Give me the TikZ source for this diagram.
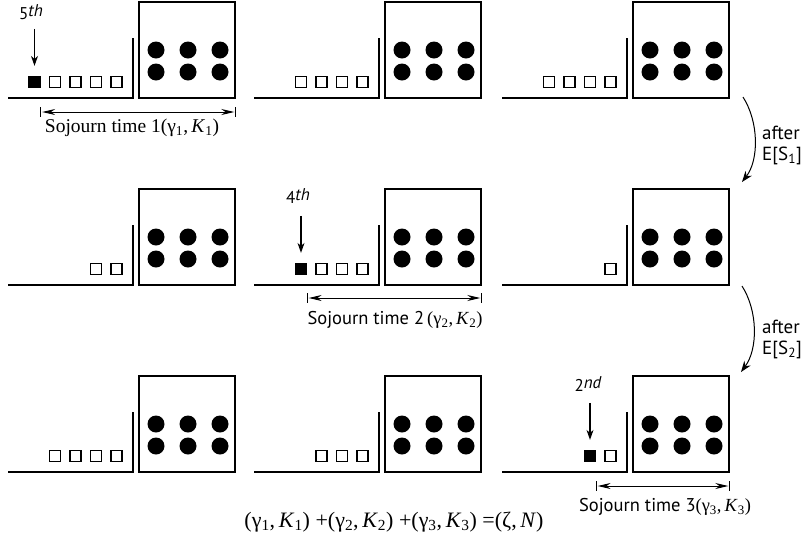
\documentclass[tikz,border=0pt]{standalone}
\usepackage{fontspec}
\setmainfont{Liberation Serif}
\newfontfamily\sansf{PT Sans}
\usetikzlibrary{arrows.meta,calc}
\newcommand\gk[2]{(γ\textsubscript{#1},\,\textit{K}\textsubscript{#2})}
\begin{document}
\begin{tikzpicture}[x=1pt,y=-1pt,
 base/.style={line width=1.3pt},
 srv/.style={draw,line width=1.6pt,minimum width=96pt,minimum height=96pt,inner sep=0pt},
 job/.style={circle,fill=black,minimum size=17pt,inner sep=0pt},
 sq/.style={draw,line width=1.3pt,minimum size=11pt,inner sep=0pt},
 sqf/.style={sq,fill=black},
 pointer/.style={-{Stealth[length=10pt,width=7pt]},line width=1.1pt},
 dimline/.style={{Stealth[length=13pt,width=6pt]}-{Stealth[length=13pt,width=6pt]},line width=1pt,shorten <=1.5pt,shorten >=1.5pt},
 tickmark/.style={line width=1.1pt},
 curv/.style={-{Stealth[length=11pt,width=8pt]},line width=1pt},
 ordlab/.style={font=\sansf\fontsize{17}{19}\selectfont,inner sep=0pt},
 serlab/.style={font=\fontsize{19.5}{22}\selectfont,inner sep=0pt},
 eqlab/.style={font=\fontsize{22}{24}\selectfont,inner sep=0pt},
 sanlab/.style={font=\sansf\fontsize{18.5}{21}\selectfont,inner sep=0pt},
 afterlab/.style={font=\sansf\fontsize{19}{21}\selectfont,align=left,anchor=west,inner sep=0pt},
 station/.pic={
   \draw[base] (-125,0) -- (0,0) -- (0,-60);
   \node[srv] (box) at (54,-48) {};
   \foreach \i/\xx in {1/23,2/55,3/87}{
     \node[job] (u\i) at (\xx,-48) {};
     \node[job] (l\i) at (\xx,-26) {};
   }
 }
]
\useasboundingbox (0,0) rectangle (801,539);

% stations
\pic (p11) at (133,98) {station};
\pic (p12) at (379,98) {station};
\pic (p13) at (627,98) {station};
\pic (p21) at (133,285) {station};
\pic (p22) at (379,285) {station};
\pic (p23) at (627,285) {station};
\pic (p31) at (133,472) {station};
\pic (p32) at (379,472) {station};
\pic (p33) at (627,472) {station};

% row 1 customers
\node[sqf] (s11f) at (34.5,82) {};
\foreach \xx [count=\k] in {55,75.5,96,116.5} \node[sq] (s11\k) at (\xx,82) {};
\foreach \xx [count=\k] in {301,321.5,342,362.5} \node[sq] (s12\k) at (\xx,82) {};
\foreach \xx [count=\k] in {549,569.5,590,610.5} \node[sq] (s13\k) at (\xx,82) {};
% row 2 customers
\foreach \xx [count=\k] in {96,116.5} \node[sq] (s21\k) at (\xx,269) {};
\node[sqf] (s22f) at (301,269) {};
\foreach \xx [count=\k] in {321.5,342,362.5} \node[sq] (s22\k) at (\xx,269) {};
\node[sq] (s231) at (610.5,269) {};
% row 3 customers
\foreach \xx [count=\k] in {55,75.5,96,116.5} \node[sq] (s31\k) at (\xx,456) {};
\foreach \xx [count=\k] in {321.5,342,362.5} \node[sq] (s32\k) at (\xx,456) {};
\node[sqf] (s33f) at (590,456) {};
\node[sq] (s331) at (610.5,456) {};

% ordinal labels and pointers
\node[ordlab] (o5) at (31,12) {5\raisebox{0.35ex}{\itshape th}};
\draw[pointer] ($(s11f.north)+(0,-47)$) -- ($(s11f.north)+(0,-10)$);
\node[ordlab] (o4) at (298,196) {4\raisebox{0.35ex}{\itshape th}};
\draw[pointer] ($(s22f.north)+(0,-47)$) -- ($(s22f.north)+(0,-10)$);
\node[ordlab] (o2) at (588,384) {2\raisebox{0.35ex}{\itshape nd}};
\draw[pointer] ($(s33f.north)+(0,-47)$) -- ($(s33f.north)+(0,-10)$);

% sojourn dimension lines
\coordinate (d1a) at (s11f.east |- 0,112);
\coordinate (d1b) at (p11box.east |- 0,112);
\draw[tickmark] ($(d1a)+(0,-5)$) -- ($(d1a)+(0,5)$);
\draw[tickmark] ($(d1b)+(0,-5)$) -- ($(d1b)+(0,5)$);
\draw[dimline] (d1a) -- (d1b);
\node[serlab] (t1) at (132,128) {Sojourn time 1\gk{1}{1}};

\coordinate (d2a) at (s22f.east |- 0,298);
\coordinate (d2b) at (p22box.east |- 0,298);
\draw[tickmark] ($(d2a)+(0,-5)$) -- ($(d2a)+(0,5)$);
\draw[tickmark] ($(d2b)+(0,-5)$) -- ($(d2b)+(0,5)$);
\draw[dimline] (d2a) -- (d2b);
\node[sanlab] (t2) at (395,320) {Sojourn time 2\,{\rmfamily\gk{2}{2}}};

\coordinate (d3a) at (s33f.east |- 0,486);
\coordinate (d3b) at (p33box.east |- 0,486);
\draw[tickmark] ($(d3a)+(0,-5)$) -- ($(d3a)+(0,5)$);
\draw[tickmark] ($(d3b)+(0,-5)$) -- ($(d3b)+(0,5)$);
\draw[dimline] (d3a) -- (d3b);
\node[sanlab] (t3) at (665,507) {Sojourn time 3{\rmfamily\gk{3}{3}}};

% transitions
\coordinate (c1s) at (743,97);
\coordinate (c1e) at (742,182);
\draw[curv] (c1s) .. controls (759,122) and (759,160) .. (c1e);
\node[afterlab] (a1) at (762,145) {after\\E[S\textsubscript{1}]};
\coordinate (c2s) at (742,286);
\coordinate (c2e) at (741,372);
\draw[curv] (c2s) .. controls (758,311) and (758,349) .. (c2e);
\node[afterlab] (a2) at (762,339) {after\\E[S\textsubscript{2}]};

% equation
\node[eqlab] (eq) at (394,522) {\gk{1}{1} +\gk{2}{2} +\gk{3}{3} =(ζ,\,\textit{N})};
\end{tikzpicture}
\end{document}
